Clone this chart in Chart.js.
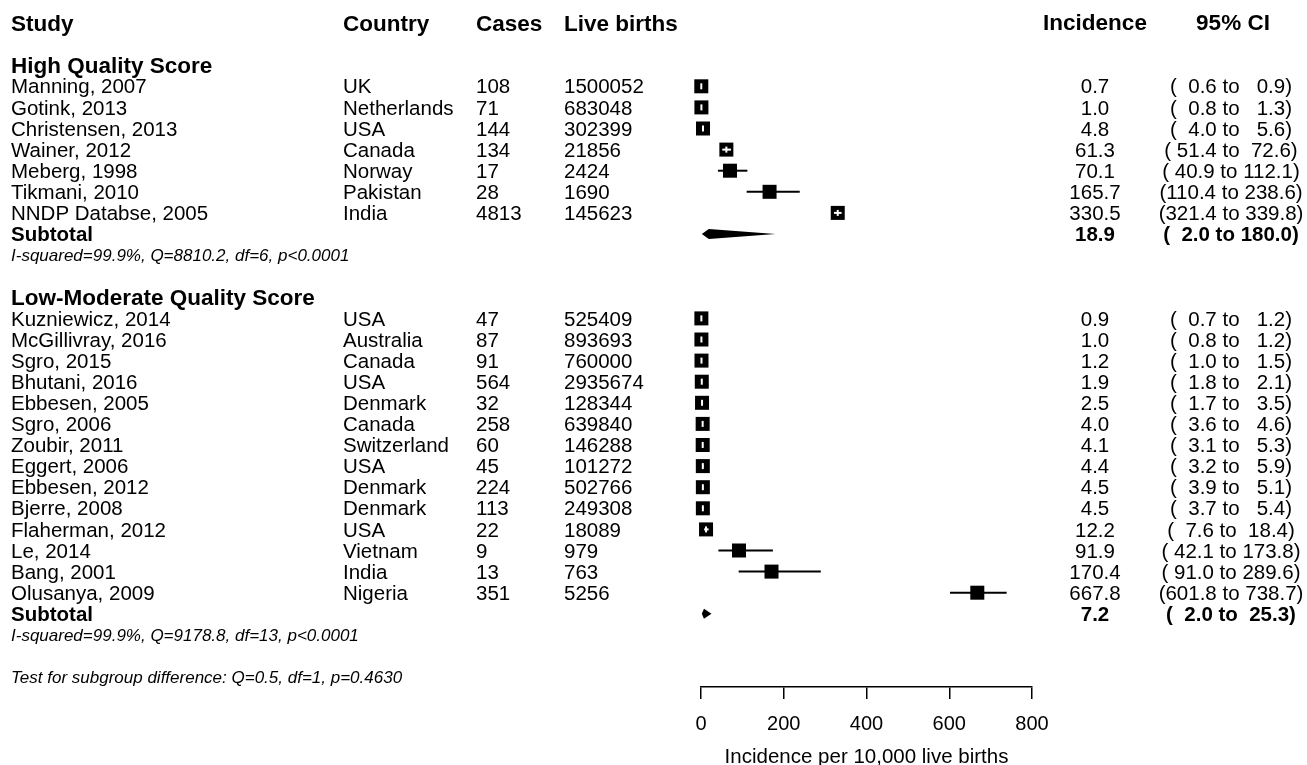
<!DOCTYPE html>
<html>
<head>
<meta charset="utf-8">
<script src="https://cdn.jsdelivr.net/npm/chart.js@4.4.1/dist/chart.umd.min.js"></script>
<style>
  html, body { margin: 0; padding: 0; background: #ffffff; }
  #wrap { width: 1307px; height: 765px; }
</style>
</head>
<body>
<div id="wrap"><canvas id="c" width="1307" height="765"></canvas></div>
<script>
// ---------------- DATA ----------------
const groupNames = ["High Quality Score", "Low-Moderate Quality Score"];

const highStudies   = ["Manning, 2007", "Gotink, 2013", "Christensen, 2013", "Wainer, 2012", "Meberg, 1998", "Tikmani, 2010", "NNDP Databse, 2005"];
const highCountries = ["UK", "Netherlands", "USA", "Canada", "Norway", "Pakistan", "India"];
const highCases     = [108, 71, 144, 134, 17, 28, 4813];
const highBirths    = [1500052, 683048, 302399, 21856, 2424, 1690, 145623];
const highInc       = [0.7, 1.0, 4.8, 61.3, 70.1, 165.7, 330.5];
const highLo        = [0.6, 0.8, 4.0, 51.4, 40.9, 110.4, 321.4];
const highHi        = [0.9, 1.3, 5.6, 72.6, 112.1, 238.6, 339.8];

const lowStudies   = ["Kuzniewicz, 2014", "McGillivray, 2016", "Sgro, 2015", "Bhutani, 2016", "Ebbesen, 2005", "Sgro, 2006", "Zoubir, 2011", "Eggert, 2006", "Ebbesen, 2012", "Bjerre, 2008", "Flaherman, 2012", "Le, 2014", "Bang, 2001", "Olusanya, 2009"];
const lowCountries = ["USA", "Australia", "Canada", "USA", "Denmark", "Canada", "Switzerland", "USA", "Denmark", "Denmark", "USA", "Vietnam", "India", "Nigeria"];
const lowCases     = [47, 87, 91, 564, 32, 258, 60, 45, 224, 113, 22, 9, 13, 351];
const lowBirths    = [525409, 893693, 760000, 2935674, 128344, 639840, 146288, 101272, 502766, 249308, 18089, 979, 763, 5256];
const lowInc       = [0.9, 1.0, 1.2, 1.9, 2.5, 4.0, 4.1, 4.4, 4.5, 4.5, 12.2, 91.9, 170.4, 667.8];
const lowLo        = [0.7, 0.8, 1.0, 1.8, 1.7, 3.6, 3.1, 3.2, 3.9, 3.7, 7.6, 42.1, 91.0, 601.8];
const lowHi        = [1.2, 1.2, 1.5, 2.1, 3.5, 4.6, 5.3, 5.9, 5.1, 5.4, 18.4, 173.8, 289.6, 738.7];

const subtotalEst = [18.9, 7.2];
const subtotalLo  = [2.0, 2.0];
const subtotalHi  = [180.0, 25.3];
const heterogeneity = ["I-squared=99.9%, Q=8810.2, df=6, p<0.0001", "I-squared=99.9%, Q=9178.8, df=13, p<0.0001"];
const subgroupTest = "Test for subgroup difference: Q=0.5, df=1, p=0.4630";

const columnHeaders = ["Study", "Country", "Cases", "Live births", "Incidence", "95% CI"];
const xTicks = [0, 200, 400, 600, 800];
const xTitle = "Incidence per 10,000 live births";

// ---------------- STYLE ----------------
const FONT = "'Liberation Sans', Arial, Helvetica, sans-serif";
const COL_STUDY = 11, COL_COUNTRY = 343, COL_CASES = 476, COL_BIRTHS = 564, COL_INC = 1095, COL_CI = 1231;
const BOX = 14;          // square side in px
const DIAMOND_HALF = 5;  // px
const TEXT_DY = 1.5;     // px text nudge

// ---------------- BUILD ROWS ----------------
const groups = [
  {studies: highStudies, countries: highCountries, cases: highCases, births: highBirths, inc: highInc, lo: highLo, hi: highHi},
  {studies: lowStudies,  countries: lowCountries,  cases: lowCases,  births: lowBirths,  inc: lowInc,  lo: lowLo,  hi: lowHi}
];
const fmt1 = v => v.toFixed(1);
const pad5 = s => (" ".repeat(Math.max(0, 5 - s.length))) + s;
const ciText = (lo, hi) => "(" + pad5(fmt1(lo)) + " to " + pad5(fmt1(hi)) + ")";

const studyRows = [];
const titleRows = [];
const subRows = [];
let r = 2;
groups.forEach((g, gi) => {
  titleRows.push({row: r, text: groupNames[gi]}); r++;
  g.studies.forEach((s, i) => {
    studyRows.push({row: r, name: s, country: g.countries[i], cases: g.cases[i], births: g.births[i], inc: g.inc[i], lo: g.lo[i], hi: g.hi[i]});
    r++;
  });
  subRows.push({row: r, est: subtotalEst[gi], lo: subtotalLo[gi], hi: subtotalHi[gi], het: heterogeneity[gi]});
  r += 3;
});
const testRow = r;

// ---------------- DATASETS ----------------
const datasets = [];
datasets.push({
  type: 'scatter',
  label: 'estimate',
  data: studyRows.map(s => ({x: s.inc, y: s.row})),
  pointStyle: 'rect',
  pointRadius: BOX / Math.SQRT2,
  pointHoverRadius: BOX / Math.SQRT2,
  backgroundColor: '#000',
  borderWidth: 0,
  clip: false
});
studyRows.forEach(s => {
  datasets.push({
    type: 'scatter',
    label: 'ci',
    data: [{x: s.lo, y: s.row}, {x: s.hi, y: s.row}],
    showLine: true,
    borderColor: '#000',
    borderWidth: 2,
    pointRadius: 0,
    pointHoverRadius: 0,
    clip: false
  });
});

// ---------------- PLUGIN ----------------
const forestPlugin = {
  id: 'forest',
  afterDatasetsDraw(chart) {
    const ctx = chart.ctx, xs = chart.scales.x, ys = chart.scales.y;
    ctx.save();
    studyRows.forEach(s => {
      const cx = xs.getPixelForValue(s.inc), cy = ys.getPixelForValue(s.row);
      const pl = xs.getPixelForValue(s.lo), ph = xs.getPixelForValue(s.hi);
      const half = BOX / 2;
      if (pl >= cx - half && ph <= cx + half) {
        ctx.strokeStyle = '#fff';
        ctx.lineWidth = 2;
        ctx.beginPath();
        ctx.moveTo(pl, cy); ctx.lineTo(Math.max(ph, pl + 0.01), cy);
        ctx.stroke();
        ctx.beginPath();
        ctx.moveTo(cx, cy - 3); ctx.lineTo(cx, cy + 3);
        ctx.stroke();
      }
    });
    subRows.forEach(d => {
      const y = ys.getPixelForValue(d.row);
      const xl = xs.getPixelForValue(d.lo), xe = xs.getPixelForValue(d.est), xh = xs.getPixelForValue(d.hi);
      ctx.fillStyle = '#000';
      ctx.beginPath();
      ctx.moveTo(xl, y);
      ctx.lineTo(xe, y - DIAMOND_HALF);
      ctx.lineTo(xh, y);
      ctx.lineTo(xe, y + DIAMOND_HALF);
      ctx.closePath();
      ctx.fill();
    });
    ctx.restore();
  },
  afterDraw(chart) {
    const ctx = chart.ctx, ys = chart.scales.y;
    ctx.save();
    ctx.fillStyle = '#000';
    ctx.textBaseline = 'middle';
    const text = (t, x, row, align, font) => {
      ctx.font = font; ctx.textAlign = align;
      ctx.fillText(t, x, ys.getPixelForValue(row) + TEXT_DY);
    };
    const BOLD_H = "bold 22.5px " + FONT, REG = "20.5px " + FONT, BOLD = "bold 20.5px " + FONT, ITAL = "italic 17px " + FONT;
    text(columnHeaders[0], COL_STUDY, 0, 'left', BOLD_H);
    text(columnHeaders[1], COL_COUNTRY, 0, 'left', BOLD_H);
    text(columnHeaders[2], COL_CASES, 0, 'left', BOLD_H);
    text(columnHeaders[3], COL_BIRTHS, 0, 'left', BOLD_H);
    text(columnHeaders[4], COL_INC, -0.05, 'center', BOLD_H);
    text(columnHeaders[5], COL_CI + 2, -0.05, 'center', BOLD_H);
    titleRows.forEach(t => text(t.text, COL_STUDY, t.row, 'left', BOLD_H));
    studyRows.forEach(s => {
      text(s.name, COL_STUDY, s.row, 'left', REG);
      text(s.country, COL_COUNTRY, s.row, 'left', REG);
      text(String(s.cases), COL_CASES, s.row, 'left', REG);
      text(String(s.births), COL_BIRTHS, s.row, 'left', REG);
      text(fmt1(s.inc), COL_INC, s.row, 'center', REG);
      text(ciText(s.lo, s.hi), COL_CI, s.row, 'center', REG);
    });
    subRows.forEach(d => {
      text("Subtotal", COL_STUDY, d.row, 'left', BOLD);
      text(fmt1(d.est), COL_INC, d.row, 'center', BOLD);
      text(ciText(d.lo, d.hi), COL_CI, d.row, 'center', BOLD);
      text(d.het, COL_STUDY, d.row + 1, 'left', ITAL);
    });
    text(subgroupTest, COL_STUDY, testRow, 'left', ITAL);
    ctx.restore();
  }
};

// ---------------- CHART ----------------
const ROW_TOP = 23, ROW_H = 21.1, AXIS_Y = 687;
new Chart(document.getElementById('c'), {
  type: 'scatter',
  data: {datasets},
  options: {
    responsive: false,
    animation: false,
    devicePixelRatio: 1,
    layout: {autoPadding: false, padding: {left: 701, right: 275, top: 0, bottom: 0}},
    plugins: {legend: {display: false}, tooltip: {enabled: false}},
    scales: {
      x: {
        type: 'linear',
        min: 0, max: 800,
        afterBuildTicks: (scale) => { scale.ticks = xTicks.map(v => ({value: v})); },
        afterFit: (scale) => { scale.height = 765 - AXIS_Y; },
        ticks: {color: '#000', font: {family: FONT, size: 20}, padding: 13, maxRotation: 0, autoSkip: false},
        grid: {drawOnChartArea: false, drawTicks: true, tickLength: 12, color: '#000', lineWidth: 1.5},
        border: {display: true, color: '#000', width: 1.5},
        title: {display: true, text: xTitle, color: '#000', font: {family: FONT, size: 20.5, lineHeight: 0.7}, padding: {top: 0, bottom: 0}}
      },
      y: {
        type: 'linear',
        display: false,
        reverse: true,
        min: -ROW_TOP / ROW_H,
        max: (AXIS_Y - ROW_TOP) / ROW_H
      }
    }
  },
  plugins: [forestPlugin]
});
</script>
</body>
</html>
